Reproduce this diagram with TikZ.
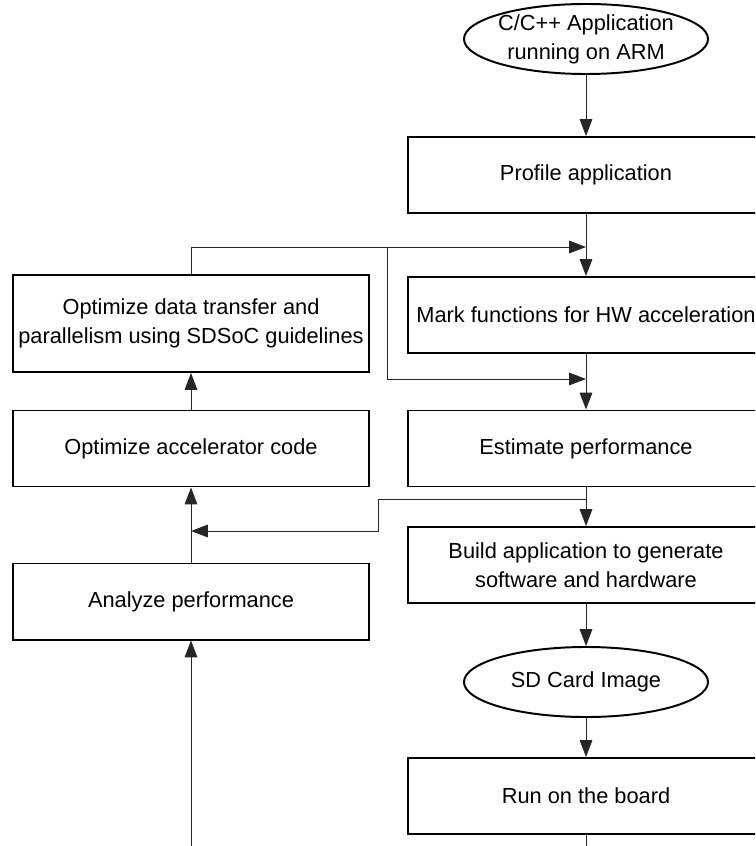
\documentclass[tikz,border=0pt]{standalone}
\usepackage{fontspec}
\setmainfont{Liberation Sans}
\usetikzlibrary{arrows.meta,shapes.geometric}

\begin{document}
\begin{tikzpicture}[x=0.025cm,y=-0.025cm,
	font=\fontsize{15.5pt}{20.5pt}\selectfont,
	stepbox/.style={draw,line width=1.4pt,minimum width=8.9cm,minimum height=1.9cm,inner sep=2pt,align=center},
	endbox/.style={draw,ellipse,line width=1.4pt,inner xsep=-3pt,inner ysep=-6pt,minimum width=6.1cm,minimum height=1.75cm,align=center},
	arr/.style={-{Triangle[length=12pt,width=9pt]},line width=0.7pt,black!85}]
	\clip (0,0) rectangle (755,846);
	% right column
	\node [endbox] (app) at (586,39) {C/C++ Application\\running on ARM};
	\node [stepbox] (profile) at (586,175) {Profile application};
	\node [stepbox] (mark) at (586,315) {Mark functions for HW acceleration};
	\node [stepbox] (estimate) at (586,448.5) {Estimate performance};
	\node [stepbox] (build) at (586,565) {Build application to generate\\software and hardware};
	\node [endbox] (sdcard) at (586,682) {SD Card Image};
	\node [stepbox] (run) at (586,796) {Run on the board};
	% left column
	\node [stepbox,minimum height=2.425cm] (datatr) at (191,323.5) {Optimize data transfer and\\parallelism using SDSoC guidelines};
	\node [stepbox] (acccode) at (191,448.5) {Optimize accelerator code};
	\node [stepbox] (analyze) at (191,601.5) {Analyze performance};
	% junctions
	\coordinate (j1) at (586,247);
	\coordinate (t1) at (387,247);
	\coordinate (j2) at (586,379);
	\coordinate (b1) at (586,499);
	\coordinate (b2) at (378,499);
	\coordinate (b3) at (191,531);
	\coordinate (bl) at (191,846);
	\coordinate (br) at (586,846);
	\draw [arr] (app) -- (profile);
	\draw [arr] (profile) -- (mark);
	\draw [arr] (datatr.north) |- (j1);
	\draw [arr] (t1) |- (j2);
	\draw [arr] (mark) -- (estimate);
	\draw [arr] (estimate) -- (build);
	\draw [arr] (b1) -- (b2) |- (b3);
	\draw [arr] (acccode) -- (datatr);
	\draw [arr] (analyze) -- (acccode);
	\draw [arr] (bl) -- (analyze);
	\draw [arr] (build) -- (sdcard);
	\draw [arr] (sdcard) -- (run);
	\draw [line width=0.7pt,black!85] (run) -- (br);
\end{tikzpicture}
\end{document}
